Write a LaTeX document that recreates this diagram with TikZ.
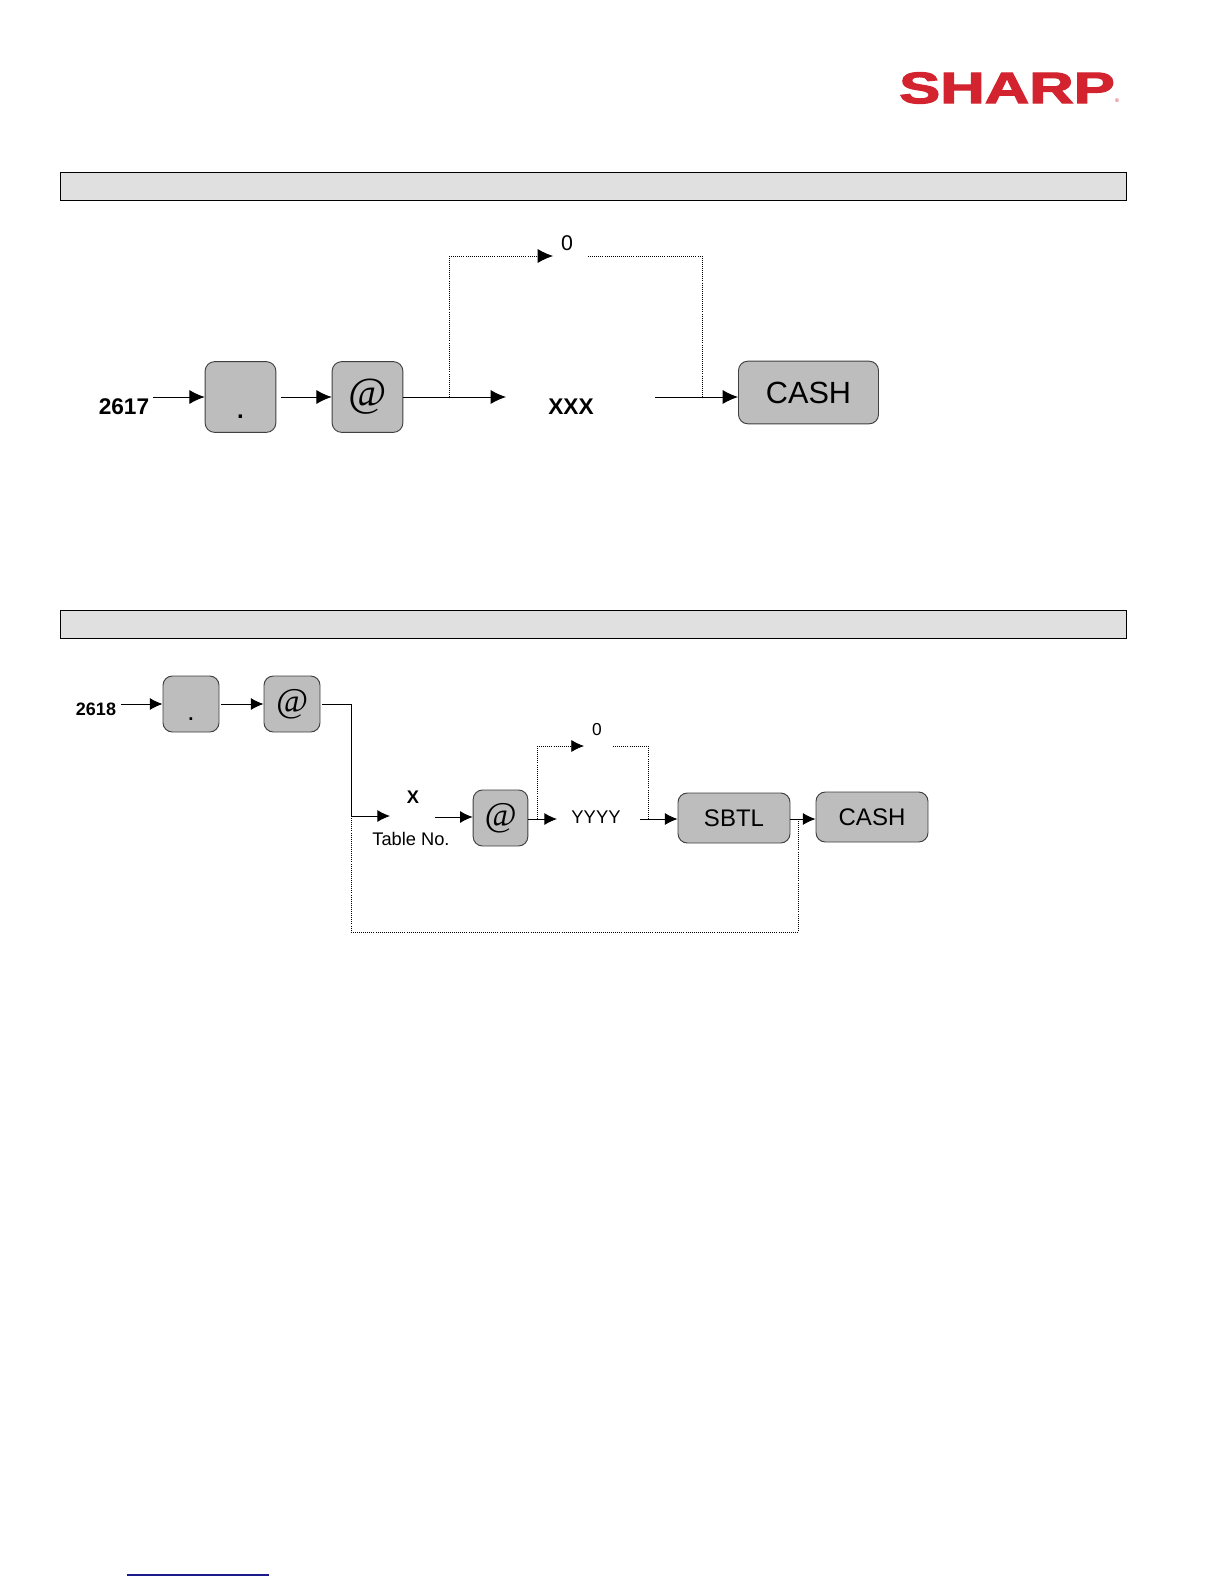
\documentclass[tikz,border=0pt]{standalone}
\usepackage{fontspec}
\setmainfont{Liberation Sans}
\newfontfamily\atfont{Liberation Serif}
\newfontfamily\logofont[FakeBold=2.5]{Liberation Sans Bold}
\usetikzlibrary{arrows.meta}
\newcommand{\setsize}[1]{\fontsize{#1}{#1}\selectfont}
\definecolor{keygray}{HTML}{BDBDBD}
\definecolor{bargray}{HTML}{E0E0E0}
\definecolor{logored}{HTML}{D2232F}
\definecolor{linkblue}{HTML}{1A1A8C}
\tikzset{
    headbar/.style={draw=black,line width=.6pt,fill=bargray,minimum width=800pt,minimum height=21pt,inner sep=0pt},
    keybox/.style={draw=black!75,line width=.7pt,fill=keygray,rounded corners=7pt,inner sep=0pt},
    flow/.style={line width=.7pt,-{Latex[length=11.5pt,width=10.5pt]}},
    flowsmall/.style={line width=.7pt,-{Latex[length=9.5pt,width=9pt]}},
    plain/.style={line width=.7pt},
    loopline/.style={line width=.55pt,densely dotted},
    tag/.style={inner sep=0pt}
}
\begin{document}
\begin{tikzpicture}[x=.75pt,y=-.75pt]
    \useasboundingbox (0,0) rectangle (1224,1584);
    % logo
    \node[tag,text=logored,xscale=1.4] (logo) at (1007,88) {\setsize{33}\logofont SHARP};
    \node[tag,text=logored] (logomark) at (1117,101) {\setsize{4}®};
    % bars
    \node[headbar] (bara) at (593.5,186) {};
    \node[headbar] (barb) at (593.5,624.5) {};
    % first flow
    \node[tag] (numa) at (124,407) {\setsize{17}\bfseries 2617};
    \node[keybox,minimum width=53pt,minimum height=53pt] (pointa) at (240.5,397) {};
    \node[tag] (pointamark) at (240.5,417) {\setsize{18}\bfseries .};
    \node[keybox,minimum width=53pt,minimum height=53pt] (ata) at (367.5,397) {\setsize{31}\atfont\itshape\raisebox{-3pt}{@}};
    \node[tag] (xxx) at (571,407) {\setsize{17}\bfseries XXX};
    \node[tag] (zeroa) at (567,243) {\setsize{16}0};
    \node[keybox,minimum width=105pt,minimum height=47pt] (casha) at (808.5,392.5) {\setsize{23}CASH};
    \coordinate (splita) at (449,397);
    \coordinate (xxxin) at (506,397);
    \coordinate (xxxout) at (655,397);
    \coordinate (joina) at (702,397);
    \coordinate (uppera) at (449,256);
    \coordinate (zeroain) at (553,256);
    \coordinate (zeroaout) at (588,256);
    \coordinate (upperb) at (702,256);
    \draw[flow] (153,397)--(pointa.west);
    \draw[flow] (281,397)--(ata.west);
    \draw[flow] (ata.east)--(xxxin);
    \draw[flow] (xxxout)--(casha.west|-xxxout);
    \draw[loopline] (splita)--(uppera);
    \draw[loopline,-{Latex[length=11.5pt,width=10.5pt,sep=0pt]}] (uppera)--(zeroain);
    \draw[loopline] (zeroaout)--(upperb)--(joina);
    % second flow
    \node[tag] (numb) at (96,709) {\setsize{13.5}\bfseries 2618};
    \node[keybox,minimum width=42pt,minimum height=42pt] (pointb) at (191,704) {};
    \node[tag] (pointbmark) at (191,719) {\setsize{14}\bfseries .};
    \node[keybox,minimum width=42pt,minimum height=42pt] (atb) at (292,704) {\setsize{26}\atfont\itshape\raisebox{-2.5pt}{@}};
    \node[tag] (tablex) at (413,797) {\setsize{13.7}\bfseries X};
    \node[tag] (tableno) at (411,839) {\setsize{13.7}Table No.};
    \node[keybox,minimum width=41pt,minimum height=42pt] (atc) at (500.5,818) {\setsize{26}\atfont\itshape\raisebox{-2.5pt}{@}};
    \node[tag] (yyyy) at (596,817) {\setsize{13.8}YYYY};
    \node[tag] (zerob) at (597,730) {\setsize{13}0};
    \node[keybox,minimum width=84pt,minimum height=37.5pt] (sbtl) at (734,818) {\setsize{18}SBTL};
    \node[keybox,minimum width=84pt,minimum height=37.5pt] (cashb) at (872,817) {\setsize{18}CASH};
    \coordinate (drop) at (351,704);
    \coordinate (turn) at (351,816);
    \coordinate (tablein) at (390,816);
    \coordinate (tableout) at (435,817);
    \coordinate (yyyyin) at (557,819);
    \coordinate (yyyyout) at (640,819);
    \coordinate (splitb) at (537,819);
    \coordinate (upperc) at (537,746);
    \coordinate (zerobin) at (584,746);
    \coordinate (zerobout) at (613,746);
    \coordinate (upperd) at (648,746);
    \coordinate (joinb) at (648,819);
    \coordinate (backa) at (351,932);
    \coordinate (backb) at (798,932);
    \coordinate (backc) at (798,819);
    \draw[flowsmall] (121,704)--(pointb.west);
    \draw[flowsmall] (221,704)--(atb.west);
    \draw[plain] (322,704)--(drop)--(turn);
    \draw[flowsmall] (turn)--(tablein);
    \draw[flowsmall] (tableout)--(atc.west|-tableout);
    \draw[flowsmall] (atc.east|-yyyyin)--(yyyyin);
    \draw[flowsmall] (yyyyout)--(sbtl.west|-yyyyout);
    \draw[flowsmall] (sbtl.east|-yyyyin)--(cashb.west|-yyyyin);
    \draw[loopline] (splitb)--(upperc);
    \draw[loopline,-{Latex[length=9.5pt,width=9pt]}] (upperc)--(zerobin);
    \draw[loopline] (zerobout)--(upperd)--(joinb);
    \draw[loopline] (turn)--(backa)--(backb)--(backc);
    % link rule
    \coordinate (rulea) at (127,1575);
    \coordinate (ruleb) at (269,1575);
    \draw[linkblue,line width=1pt] (rulea)--(ruleb);
\end{tikzpicture}
\end{document}
